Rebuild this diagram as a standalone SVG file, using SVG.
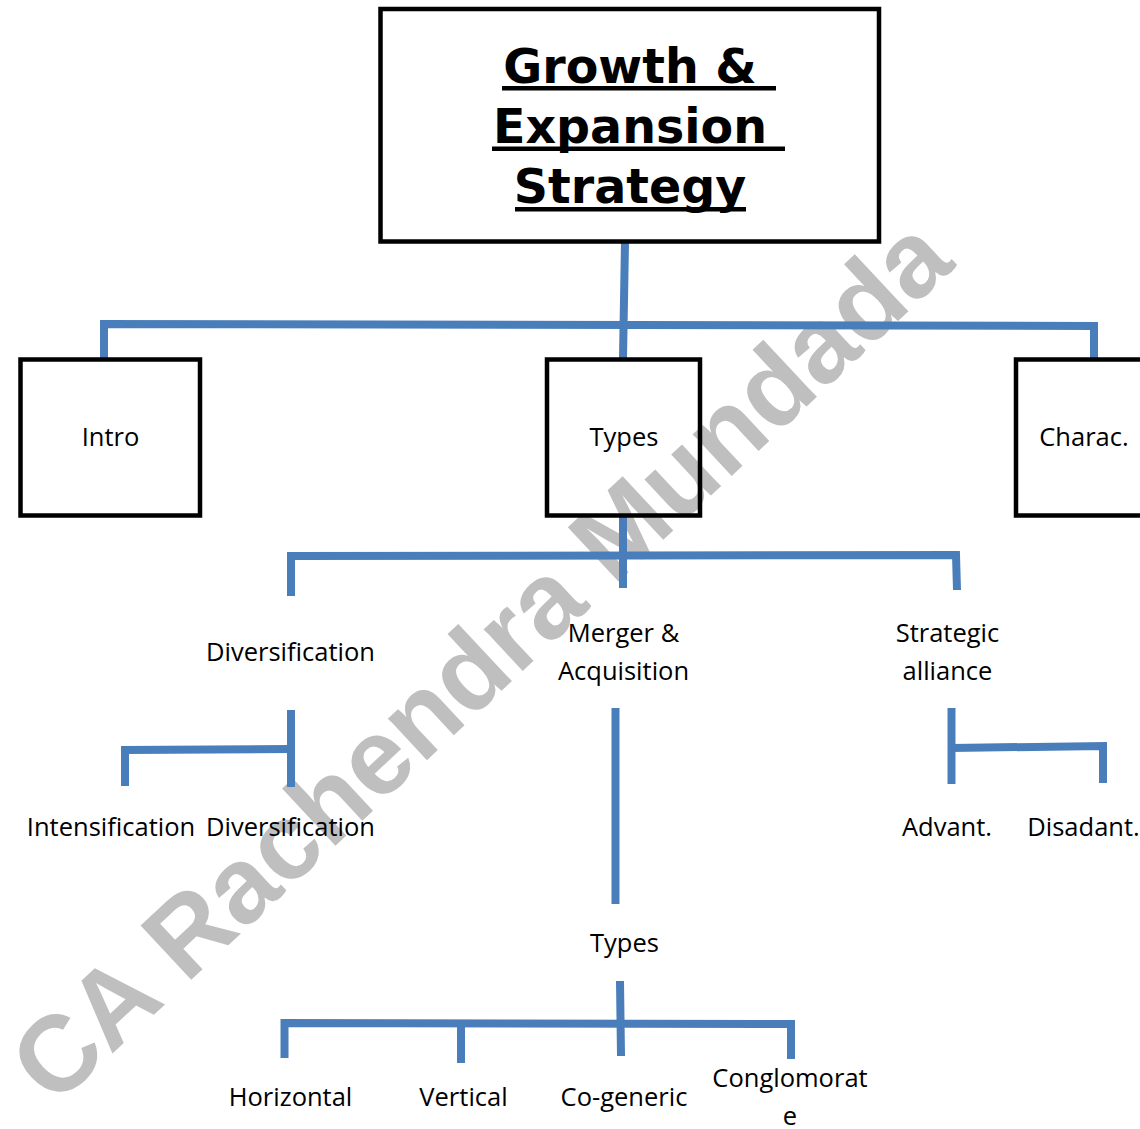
<svg xmlns="http://www.w3.org/2000/svg" width="1140" height="1129" viewBox="0 0 1140 1129">
<style>
.box{fill:none;stroke:#000000;stroke-width:4.5}
.conn{fill:none;stroke:#4a7ebb;stroke-width:8;stroke-linecap:butt;stroke-linejoin:miter}
.lbl{font-family:"Open Sans","Liberation Sans",sans-serif;font-size:25.5px;fill:#000000;text-anchor:middle}
.title{font-family:"DejaVu Sans","Liberation Sans",sans-serif;font-weight:bold;font-size:47.5px;fill:#000000;text-anchor:middle}
.wm{font-family:"Liberation Sans","DejaVu Sans",sans-serif;font-weight:bold;font-size:108px;fill:#bfbfbf}
</style>
<rect x="0" y="0" width="1140" height="1129" fill="#ffffff"/>
<g id="watermark">
<text class="wm" transform="translate(54,1108) rotate(-43)" textLength="1235" lengthAdjust="spacingAndGlyphs">CA Rachendra Mundada</text>
</g>
<g id="connectors">
<line class="conn" x1="625" y1="242" x2="623" y2="358"/>
<polyline class="conn" points="104,358 104,324 1094,326 1094,360"/>
<line class="conn" x1="623" y1="515" x2="623" y2="588"/>
<polyline class="conn" points="291,596 291,556 956,555 957,590"/>
<line class="conn" x1="291" y1="710" x2="291" y2="787"/>
<polyline class="conn" points="125,786 125,750 291,749"/>
<line class="conn" x1="615.5" y1="708" x2="615.5" y2="904"/>
<line class="conn" x1="951.5" y1="708" x2="951.5" y2="784"/>
<polyline class="conn" points="951.5,748 1103,746 1103,783"/>
<line class="conn" x1="620" y1="981" x2="621" y2="1056"/>
<polyline class="conn" points="284.5,1058 284.5,1023 791,1024 791,1059"/>
<line class="conn" x1="461" y1="1023" x2="461" y2="1063"/>
</g>
<g id="node-title">
<rect class="box" x="380.5" y="9" width="498.5" height="232.5"/>
<text class="title" x="630" y="83">Growth &amp;</text>
<text class="title" x="630" y="143">Expansion</text>
<text class="title" x="630" y="203">Strategy</text>
<rect x="502" y="86" width="274" height="4.5" fill="#000000"/>
<rect x="492" y="146.5" width="293" height="4.5" fill="#000000"/>
<rect x="515" y="207" width="231" height="4.5" fill="#000000"/>
</g>
<g id="node-intro">
<rect class="box" x="20.5" y="359.5" width="179.5" height="156"/>
<text class="lbl" x="110.5" y="446">Intro</text>
</g>
<g id="node-types">
<rect class="box" x="547" y="359.5" width="153" height="156"/>
<text class="lbl" x="624" y="446">Types</text>
</g>
<g id="node-charac">
<rect class="box" x="1016" y="359.5" width="200" height="156"/>
<text class="lbl" x="1084" y="446">Charac.</text>
</g>
<g id="node-diversification">
<text class="lbl" x="290.5" y="661">Diversification</text>
</g>
<g id="node-merger">
<text class="lbl" x="623.5" y="642">Merger &amp;</text>
<text class="lbl" x="623.5" y="680">Acquisition</text>
</g>
<g id="node-strategic">
<text class="lbl" x="947.5" y="642">Strategic</text>
<text class="lbl" x="947.5" y="680">alliance</text>
</g>
<g id="node-intensification">
<text class="lbl" x="111" y="836">Intensification</text>
</g>
<g id="node-diversification2">
<text class="lbl" x="290.5" y="836">Diversification</text>
</g>
<g id="node-advant">
<text class="lbl" x="947" y="836">Advant.</text>
</g>
<g id="node-disadvant">
<text class="lbl" x="1083.5" y="836">Disadant.</text>
</g>
<g id="node-types2">
<text class="lbl" x="624.5" y="952">Types</text>
</g>
<g id="node-horizontal">
<text class="lbl" x="290.5" y="1106">Horizontal</text>
</g>
<g id="node-vertical">
<text class="lbl" x="463.5" y="1106">Vertical</text>
</g>
<g id="node-cogeneric">
<text class="lbl" x="624" y="1106">Co-generic</text>
</g>
<g id="node-conglomerate">
<text class="lbl" x="790" y="1087">Conglomorat</text>
<text class="lbl" x="790" y="1125">e</text>
</g>
</svg>
